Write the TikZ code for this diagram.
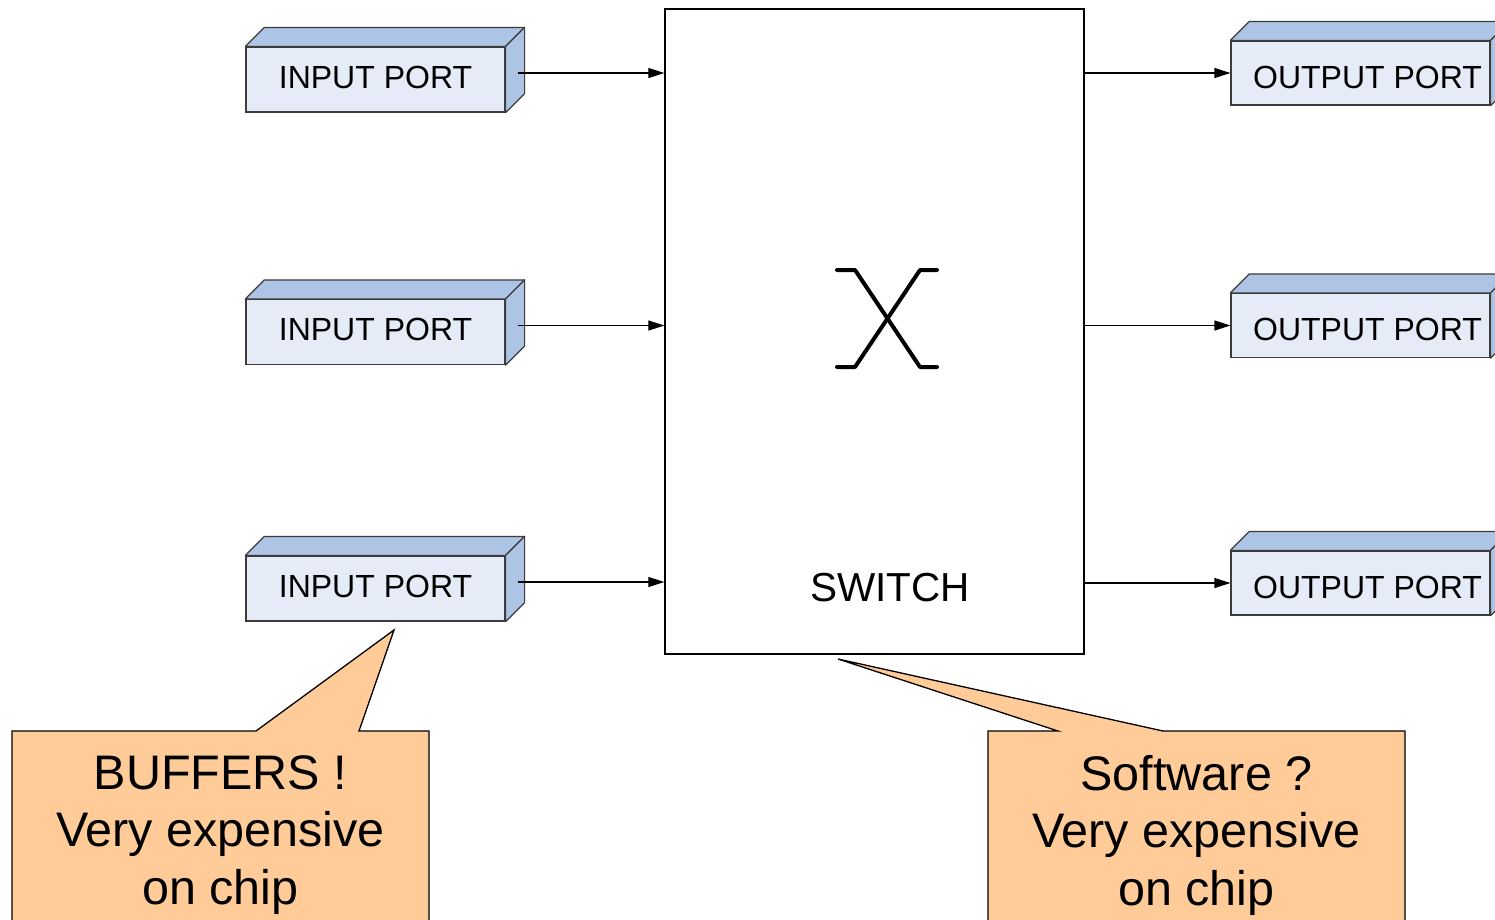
\documentclass[tikz,border=0pt]{standalone}
\usepackage{fontspec}
\setmainfont{Liberation Sans}
\usetikzlibrary{arrows.meta,calc}
\definecolor{frontc}{HTML}{E6ECF7}
\definecolor{sidec}{HTML}{AEC4E4}
\definecolor{callc}{HTML}{FFCC99}
\definecolor{edgec}{HTML}{3C3C3C}
\begin{document}
\begin{tikzpicture}[x=1pt,y=-1pt,
  port/.style={draw=edgec, line width=1.2pt, fill=frontc, minimum width=259pt, inner sep=0pt, font=\fontsize{32}{38}\selectfont},
  face/.style={draw=edgec, line width=1.2pt, fill=sidec, line join=round},
  link/.style={line width=1.2pt, -{Triangle[length=16pt,width=10pt]}},
  callout/.style={draw=black, line width=1.3pt, fill=callc, line join=miter},
  calltext/.style={font=\fontsize{48.5}{57.5}\selectfont, align=center, inner sep=0pt, anchor=north}]
\useasboundingbox (0,0) rectangle (1495,919);
\clip (0,0) rectangle (1495,919);

% switch
\node[draw, line width=1.3pt, minimum width=419pt, minimum height=645pt, inner sep=0pt] (switch) at (874.5,331.5) {};
\node[font=\fontsize{40.5}{48}\selectfont, inner sep=0pt] (swlabel) at (890,588) {SWITCH};
\draw[line width=4pt, line cap=round, line join=round] (837,270) -- (855,270) -- (920,367) -- (937,367);
\draw[line width=4pt, line cap=round, line join=round] (837,367) -- (855,367) -- (920,270) -- (937,270);

% ports
\node[port, minimum height=65pt] (in1) at (375.5,79.5) {\raisebox{2.5pt}[\height][0pt]{INPUT PORT}};
\node[port, minimum height=65pt] (in2) at (375.5,332) {\raisebox{2.5pt}[\height][0pt]{INPUT PORT}};
\node[port, minimum height=65pt] (in3) at (375.5,588.5) {\raisebox{2.5pt}[\height][0pt]{INPUT PORT}};
\node[port, minimum height=64pt] (out1) at (1360.5,73) {\hspace*{14pt}\raisebox{-4pt}[\height][0pt]{OUTPUT PORT}};
\node[port, minimum height=64pt] (out2) at (1360.5,325.5) {\hspace*{14pt}\raisebox{-4pt}[\height][0pt]{OUTPUT PORT}};
\node[port, minimum height=64pt] (out3) at (1360.5,583) {\hspace*{14pt}\raisebox{-4pt}[\height][0pt]{OUTPUT PORT}};
\foreach \n in {in1,in2,in3,out1,out2,out3}{
  \draw[face] (\n.north west) -- ++(19,-19) -- ($(\n.north east)+(19,-19)$) -- (\n.north east) -- cycle;
  \draw[face] (\n.north east) -- ++(19,-19) -- ($(\n.south east)+(19,-19)$) -- (\n.south east) -- cycle;
}

% connectors
\foreach \n in {in1,in2,in3}{
  \coordinate (s\n) at ($(\n.east)+(12,-6.5)$);
  \draw[link] (s\n) -- (s\n -| switch.west);
}
\foreach \n in {out1,out2,out3}{
  \draw[link] (\n.west -| switch.east) -- (\n.west);
}

% callouts
\draw[callout] (12,960) -- (12,731) -- (256,731) -- (394,630) -- (359,731) -- (429,731) -- (429,960);
\node[calltext] (buf) at (220.5,755) {BUFFERS !\\Very expensive\\on chip};
\draw[callout] (988,960) -- (988,731) -- (1058,731) -- (838,659) -- (1163,731) -- (1405,731) -- (1405,960);
\node[calltext] (soft) at (1196.5,755) {Software ?\\Very expensive\\on chip};
\end{tikzpicture}
\end{document}
